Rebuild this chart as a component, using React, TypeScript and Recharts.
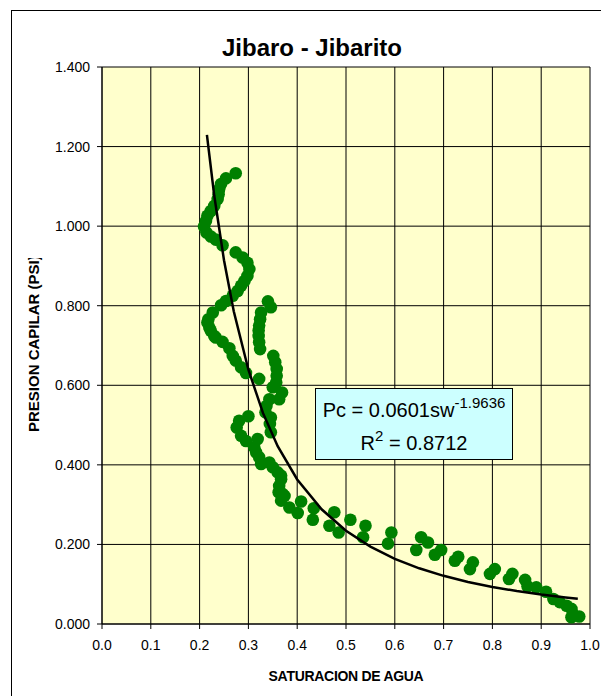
import { CartesianGrid, Scatter, ScatterChart, XAxis, YAxis } from "recharts";

// water saturation (x) and capillary pressure (y)
const swValues = [
  0.274, 0.254, 0.244, 0.24, 0.239, 0.237, 0.23, 0.223, 0.216, 0.213, 0.209, 0.214, 0.223, 0.233, 0.247,
  0.274, 0.288, 0.298, 0.302, 0.298, 0.292, 0.285, 0.278, 0.268, 0.254, 0.244, 0.227, 0.218, 0.216, 0.22,
  0.223, 0.23, 0.233, 0.247, 0.261, 0.268, 0.274, 0.285, 0.295,
  0.34, 0.346, 0.326, 0.324, 0.322, 0.321, 0.321, 0.322, 0.324, 0.322,
  0.351, 0.355, 0.358, 0.358, 0.357, 0.35, 0.369, 0.363, 0.343, 0.337, 0.335, 0.346, 0.344, 0.346,
  0.3, 0.281, 0.276, 0.285, 0.295, 0.319, 0.312, 0.316, 0.322, 0.326, 0.343, 0.35, 0.36, 0.367, 0.367,
  0.363, 0.362, 0.37, 0.367, 0.374,
  0.384, 0.401, 0.408, 0.434, 0.432, 0.466, 0.476, 0.485, 0.509, 0.535, 0.54, 0.586, 0.593, 0.644, 0.654,
  0.668, 0.682, 0.695, 0.723, 0.73, 0.754, 0.76, 0.795, 0.805, 0.834, 0.841, 0.867, 0.872, 0.89, 0.91,
  0.925, 0.938, 0.952, 0.962, 0.965, 0.978, 0.962,
];
const pcValues = [
  1.133, 1.12, 1.106, 1.093, 1.08, 1.068, 1.051, 1.038, 1.026, 1.013, 0.999, 0.984, 0.974, 0.966, 0.952,
  0.934, 0.921, 0.908, 0.892, 0.875, 0.862, 0.85, 0.837, 0.825, 0.812, 0.801, 0.783, 0.766, 0.758, 0.745,
  0.737, 0.724, 0.72, 0.709, 0.693, 0.674, 0.662, 0.645, 0.631,
  0.811, 0.796, 0.783, 0.766, 0.75, 0.738, 0.724, 0.708, 0.691, 0.616,
  0.674, 0.658, 0.641, 0.624, 0.607, 0.595, 0.582, 0.565, 0.565, 0.548, 0.532, 0.519, 0.503, 0.482,
  0.522, 0.511, 0.494, 0.473, 0.46, 0.465, 0.444, 0.431, 0.419, 0.402, 0.406, 0.394, 0.381, 0.364, 0.373,
  0.347, 0.331, 0.327, 0.31, 0.322,
  0.293, 0.279, 0.308, 0.291, 0.262, 0.247, 0.281, 0.23, 0.262, 0.218, 0.247, 0.202, 0.23, 0.186, 0.218,
  0.205, 0.174, 0.186, 0.159, 0.169, 0.138, 0.155, 0.126, 0.138, 0.113, 0.126, 0.111, 0.095, 0.092, 0.081,
  0.063, 0.055, 0.046, 0.038, 0.025, 0.019, 0.017,
];

// trendline Pc = 0.0601 sw^-1.9636, tabulated
const trendSw = [0.215, 0.23, 0.25, 0.27, 0.3, 0.33, 0.36, 0.4, 0.45, 0.5, 0.55, 0.6, 0.65, 0.7, 0.75, 0.8, 0.85, 0.9, 0.95, 0.975];
const trendPc = [1.2294, 1.0769, 0.9143, 0.786, 0.6392, 0.53, 0.4468, 0.3633, 0.2883, 0.2344, 0.1944, 0.1639, 0.14, 0.1211, 0.1057, 0.0931, 0.0827, 0.0739, 0.0665, 0.0632];

const xTicks = [0, 0.1, 0.2, 0.3, 0.4, 0.5, 0.6, 0.7, 0.8, 0.9, 1.0];
const yTicks = [0, 0.2, 0.4, 0.6, 0.8, 1.0, 1.2, 1.4];

const points = swValues.map((sw, i) => ({ sw, pc: pcValues[i] }));
const trend = trendSw.map((sw, i) => ({ sw, pc: trendPc[i] }));

const font = "'Liberation Sans', Arial, sans-serif";
const tick = { fontSize: 14, fill: "#000", fontFamily: font };

const Dot = (props: any) => <circle cx={props.cx} cy={props.cy} r={6.3} fill="#008000" />;

export default function App() {
  return (
    <div style={{ position: "absolute", left: 0, top: 0, width: 601, height: 696, overflow: "hidden", background: "#fff", fontFamily: font }}>
      <div style={{ position: "absolute", left: 11, top: 10, width: 700, height: 800, border: "1px solid #000" }} />
      <ScatterChart width={601} height={696} margin={{ top: 67, right: 11, bottom: 42, left: 43 }}>
        <CartesianGrid stroke="#000" fill="#FFFFCC" strokeWidth={1} />
        <XAxis
          type="number"
          dataKey="sw"
          domain={[0, 1]}
          ticks={xTicks}
          tickFormatter={(v: number) => v.toFixed(1)}
          tick={tick}
          tickSize={5}
          tickMargin={11}
          height={30}
          stroke="#000"
          allowDataOverflow
        />
        <YAxis
          type="number"
          dataKey="pc"
          domain={[0, 1.4]}
          ticks={yTicks}
          tickFormatter={(v: number) => v.toFixed(3)}
          tick={tick}
          tickSize={5}
          tickMargin={7}
          width={59}
          stroke="#000"
          allowDataOverflow
        />
        <Scatter data={points} shape={Dot} isAnimationActive={false} />
        <Scatter
          data={trend}
          fill="none"
          line={{ stroke: "#000", strokeWidth: 2.5, fill: "none" }}
          shape={() => <g />}
          isAnimationActive={false}
        />
      </ScatterChart>
      <svg width={601} height={696} style={{ position: "absolute", left: 0, top: 0, pointerEvents: "none" }}>
        <defs>
          <clipPath id="ylabClip">
            <rect x={0} y={258} width={100} height={300} />
          </clipPath>
        </defs>
        <text x={312} y={56} textAnchor="middle" fontSize={24} fontWeight="bold" fontFamily={font}>
          Jibaro - Jibarito
        </text>
        <text x={346} y={681} textAnchor="middle" fontSize={14} fontWeight="bold" fontFamily={font} letterSpacing={-0.3}>
          SATURACION DE AGUA
        </text>
        <g clipPath="url(#ylabClip)">
          <text
            x={38.5}
            y={432}
            transform="rotate(-90 38.5 432)"
            textAnchor="start"
            fontSize={15}
            fontWeight="bold"
            fontFamily={font}
          >
            PRESION CAPILAR (PSI)
          </text>
        </g>
      </svg>
      <div
        style={{
          position: "absolute",
          left: 315,
          top: 388,
          width: 198,
          height: 72,
          background: "#CCFFFF",
          border: "1px solid #000",
          textAlign: "center",
          fontSize: 20,
          lineHeight: "31.6px",
          paddingTop: 6,
          boxSizing: "border-box",
          whiteSpace: "nowrap",
        }}
      >
        <div>
          Pc = 0.0601sw<span style={{ fontSize: 15, position: "relative", top: -9 }}>-1.9636</span>
        </div>
        <div>
          R<span style={{ fontSize: 15, position: "relative", top: -9 }}>2</span> = 0.8712
        </div>
      </div>
    </div>
  );
}
